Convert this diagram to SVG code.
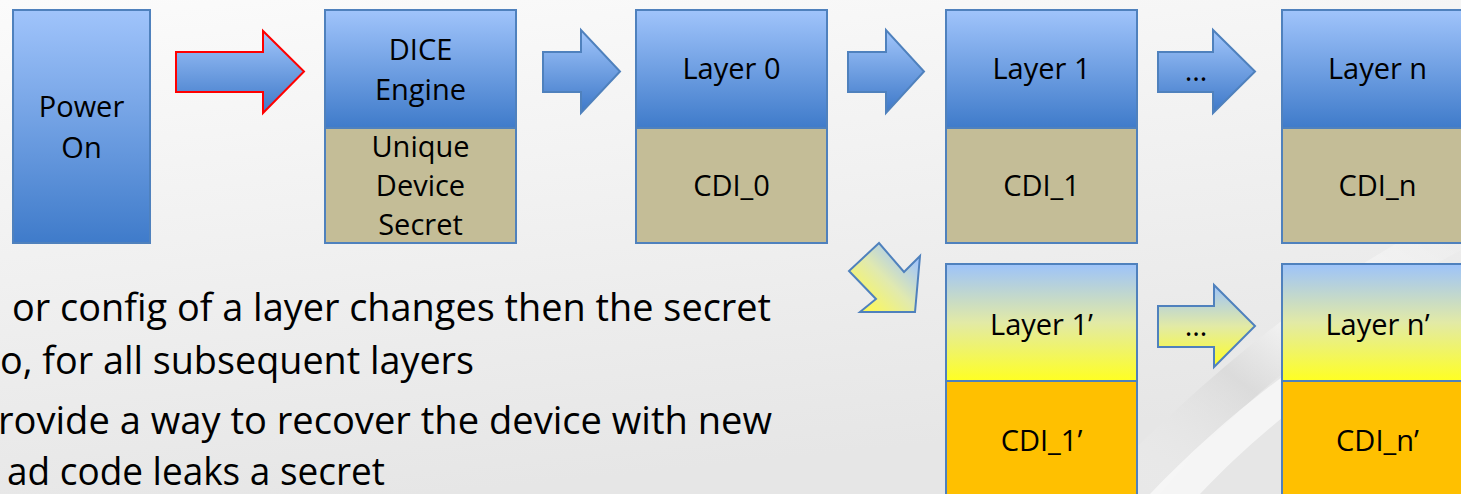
<svg xmlns="http://www.w3.org/2000/svg" width="1461" height="494" viewBox="0 0 1461 494">
<defs>
<linearGradient id="bg" x1="0" y1="0" x2="0.3" y2="1">
<stop offset="0" stop-color="#fbfbfb"/>
<stop offset="1" stop-color="#e6e6e6"/>
</linearGradient>
<linearGradient id="swoosh" x1="0" y1="1" x2="1" y2="0">
<stop offset="0" stop-color="#ffffff" stop-opacity="0"/>
<stop offset="0.4" stop-color="#d4d4d4" stop-opacity="0.9"/>
<stop offset="0.6" stop-color="#ffffff" stop-opacity="0.9"/>
<stop offset="1" stop-color="#ffffff" stop-opacity="0"/>
</linearGradient>
<linearGradient id="blue" x1="0" y1="0" x2="0" y2="1">
<stop offset="0" stop-color="#a0c4fb"/>
<stop offset="1" stop-color="#3f7bca"/>
</linearGradient>
<linearGradient id="blueArrow" x1="0" y1="0" x2="0" y2="1">
<stop offset="0" stop-color="#a2c6fb"/>
<stop offset="1" stop-color="#3d78c8"/>
</linearGradient>
<linearGradient id="yellow" x1="0" y1="0" x2="0" y2="1">
<stop offset="0" stop-color="#9dc3fa"/>
<stop offset="0.5" stop-color="#e2eaa6"/>
<stop offset="1" stop-color="#ffff22"/>
</linearGradient>
<linearGradient id="yellowDiag" x1="1" y1="0" x2="0" y2="1">
<stop offset="0.15" stop-color="#a3c6fa"/>
<stop offset="0.5" stop-color="#e0e9b0"/>
<stop offset="0.85" stop-color="#fbf85c"/>
</linearGradient>
<style>
.lbl{font-family:"Open Sans","Noto Sans","Liberation Sans",sans-serif;font-size:29px;fill:#000;text-anchor:middle}
.body{font-family:"Open Sans","Noto Sans","Liberation Sans",sans-serif;font-size:39px;fill:#000}
.box{stroke:#4f81bd;stroke-width:2}
.top{fill:url(#blue)}
.tan{fill:#c4bd97}
.ytop{fill:url(#yellow)}
.org{fill:#ffc000}
.arr{fill:url(#blueArrow);stroke:#4f81bd;stroke-width:2;stroke-linejoin:miter}
</style>
</defs>
<rect x="0" y="0" width="1461" height="494" fill="url(#bg)"/>
<path d="M1090,494 C1200,380 1330,270 1461,210 L1461,250 C1350,310 1230,410 1160,494 Z" fill="url(#swoosh)" opacity="0.7"/>
<path d="M1150,494 C1240,400 1350,320 1461,270 L1461,300 C1360,350 1260,430 1200,494 Z" fill="#ffffff" opacity="0.6"/>

<g id="connectors">
<path id="arrow-power-dice" d="M176,52 H263 V31 L304,71.5 L263,113 V92 H176 Z" fill="url(#blueArrow)" stroke="#ff0000" stroke-width="2"/>
<path id="arrow-dice-l0" class="arr" d="M543,52 H581 V30 L620,71.5 L581,113 V92 H543 Z"/>
<path id="arrow-l0-l1" class="arr" d="M848,52 H886 V30 L924,71.5 L886,113 V92 H848 Z"/>
<path id="arrow-l1-ln" class="arr" d="M1158,52 H1213 V30 L1255,71.5 L1213,113 V92 H1158 Z"/>
<text class="lbl" x="1196" y="81" font-size="22">…</text>
<path id="arrow-l0-l1p" d="M879,243 L849,271 L876,299 L860,312 L915,312 L920,256 L904,272 Z" fill="url(#yellowDiag)" stroke="#4f81bd" stroke-width="2"/>
<path id="arrow-l1p-lnp" d="M1158,306 H1214 V285 L1255,326 L1214,367 V347 H1158 Z" fill="url(#yellow)" stroke="#4f81bd" stroke-width="2"/>
<text class="lbl" x="1196" y="336" font-size="22">…</text>
</g>

<g id="power-on">
<rect class="box top" x="13" y="10" width="137" height="233"/>
<text class="lbl" x="81.5" y="117">Power</text>
<text class="lbl" x="81.5" y="158">On</text>
</g>

<g id="dice-engine">
<rect class="box top" x="325" y="10" width="191" height="118"/>
<rect class="box tan" x="325" y="128" width="191" height="115"/>
<text class="lbl" x="420.5" y="60">DICE</text>
<text class="lbl" x="420.5" y="100">Engine</text>
<text class="lbl" x="420.5" y="157">Unique</text>
<text class="lbl" x="420.5" y="196">Device</text>
<text class="lbl" x="420.5" y="235">Secret</text>
</g>

<g id="layer-0">
<rect class="box top" x="636" y="10" width="191" height="118"/>
<rect class="box tan" x="636" y="128" width="191" height="115"/>
<text class="lbl" x="731.5" y="79">Layer 0</text>
<text class="lbl" x="731.5" y="196">CDI_0</text>
</g>

<g id="layer-1">
<rect class="box top" x="946" y="10" width="191" height="118"/>
<rect class="box tan" x="946" y="128" width="191" height="115"/>
<text class="lbl" x="1041.5" y="79">Layer 1</text>
<text class="lbl" x="1041.5" y="196">CDI_1</text>
</g>

<g id="layer-n">
<rect class="box top" x="1282" y="10" width="191" height="118"/>
<rect class="box tan" x="1282" y="128" width="191" height="115"/>
<text class="lbl" x="1377.5" y="79">Layer n</text>
<text class="lbl" x="1377.5" y="196">CDI_n</text>
</g>

<g id="layer-1-prime">
<rect class="box ytop" x="946" y="264" width="191" height="117"/>
<rect class="box org" x="946" y="381" width="191" height="130"/>
<text class="lbl" x="1041.5" y="335">Layer 1’</text>
<text class="lbl" x="1041.5" y="451">CDI_1’</text>
</g>

<g id="layer-n-prime">
<rect class="box ytop" x="1282" y="264" width="191" height="117"/>
<rect class="box org" x="1282" y="381" width="191" height="130"/>
<text class="lbl" x="1377.5" y="335">Layer n’</text>
<text class="lbl" x="1377.5" y="451">CDI_n’</text>
</g>

<g id="body-text">
<text class="body" x="12" y="321" textLength="759" lengthAdjust="spacingAndGlyphs">or config of a layer changes then the secret</text>
<text class="body" x="0" y="374" textLength="474" lengthAdjust="spacingAndGlyphs">o, for all subsequent layers</text>
<text class="body" x="-2" y="434" textLength="774" lengthAdjust="spacingAndGlyphs">rovide a way to recover the device with new</text>
<text class="body" x="7" y="485" textLength="378" lengthAdjust="spacingAndGlyphs">ad code leaks a secret</text>
</g>
</svg>
